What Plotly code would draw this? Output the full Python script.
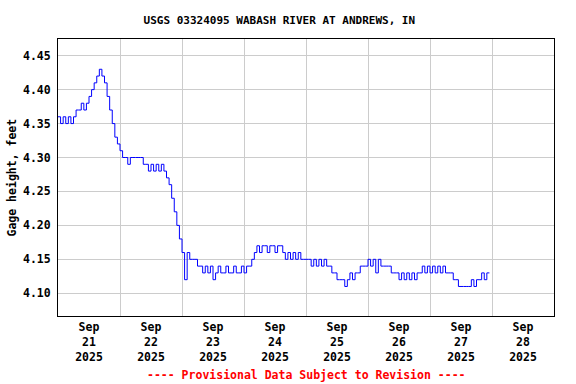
import pandas as pd
import plotly.graph_objects as go

# Hourly gage height readings (feet)
sep21 = [4.36, 4.35, 4.36, 4.35, 4.36, 4.35, 4.36, 4.37, 4.37, 4.38, 4.37, 4.38,
         4.39, 4.40, 4.41, 4.42, 4.43, 4.42, 4.41, 4.39, 4.37, 4.35, 4.33, 4.32]
sep22 = [4.31, 4.30, 4.30, 4.29, 4.30, 4.30, 4.30, 4.30, 4.30, 4.29, 4.29, 4.28,
         4.29, 4.28, 4.29, 4.28, 4.29, 4.28, 4.27, 4.26, 4.24, 4.22, 4.20, 4.18]
sep23 = [4.16, 4.12, 4.16, 4.15, 4.15, 4.15, 4.14, 4.14, 4.13, 4.14, 4.13, 4.14,
         4.12, 4.13, 4.14, 4.13, 4.13, 4.14, 4.13, 4.13, 4.14, 4.13, 4.13, 4.14]
sep24 = [4.13, 4.14, 4.14, 4.15, 4.16, 4.17, 4.16, 4.17, 4.17, 4.16, 4.17, 4.17,
         4.16, 4.17, 4.17, 4.16, 4.15, 4.16, 4.15, 4.16, 4.15, 4.16, 4.15, 4.15]
sep25 = [4.15, 4.15, 4.14, 4.15, 4.14, 4.15, 4.14, 4.15, 4.14, 4.14, 4.13, 4.13,
         4.12, 4.12, 4.12, 4.11, 4.12, 4.13, 4.12, 4.13, 4.13, 4.14, 4.14, 4.14]
sep26 = [4.15, 4.14, 4.15, 4.13, 4.15, 4.14, 4.14, 4.14, 4.14, 4.13, 4.13, 4.13,
         4.12, 4.13, 4.12, 4.13, 4.12, 4.13, 4.12, 4.13, 4.13, 4.14, 4.13, 4.14]
sep27 = [4.13, 4.14, 4.13, 4.14, 4.13, 4.14, 4.13, 4.13, 4.13, 4.12, 4.12, 4.11,
         4.11, 4.11, 4.11, 4.11, 4.12, 4.11, 4.12, 4.12, 4.13, 4.12, 4.13, 4.13]

heights = sep21 + sep22 + sep23 + sep24 + sep25 + sep26 + sep27
times = pd.date_range("2025-09-21 00:00", periods=len(heights), freq="h")

title_text = "USGS 03324095 WABASH RIVER AT ANDREWS, IN"
y_label = "Gage height, feet"
footer = "---- Provisional Data Subject to Revision ----"

FONT = "DejaVu Sans Mono"

fig = go.Figure()
fig.add_trace(go.Scatter(
    x=times, y=heights, mode="lines",
    line=dict(color="#0000ff", width=1, shape="hv"),
    hoverinfo="skip", showlegend=False,
))

fig.update_layout(
    width=576, height=384,
    margin=dict(l=58, r=22, t=39, b=68),
    paper_bgcolor="white", plot_bgcolor="white",
    font=dict(family=FONT, size=11.5, color="black"),
    title=dict(text="<b>" + title_text + "</b>", x=0.485, xref="container",
               xanchor="center", y=1 - 20 / 384, yanchor="middle",
               font=dict(family=FONT, size=11, color="black")),
)

fig.update_xaxes(
    type="date",
    range=["2025-09-21 00:00", "2025-09-29 00:00"],
    dtick=86400000, tick0="2025-09-21 00:00",
    ticklabelmode="period",
    tickformat="<b>%b</b><br><b>%d</b><br><b>%Y</b>",
    ticks="", showgrid=True, gridcolor="#cccccc", gridwidth=1,
    showline=True, linecolor="black", linewidth=1, mirror=True,
    zeroline=False,
    tickfont=dict(family=FONT, size=11.5, color="black"),
)
fig.update_yaxes(
    range=[4.0665, 4.4746],
    tick0=4.10, dtick=0.05, tickformat=".2f",
    ticks="", showgrid=True, gridcolor="#cccccc", gridwidth=1,
    showline=True, linecolor="black", linewidth=1, mirror=True,
    zeroline=False, ticklabelstandoff=4,
    tickfont=dict(family=FONT, size=11.5, color="black"),
    tickprefix="<b>", ticksuffix="</b>",
)

fig.add_annotation(
    text="<b>" + y_label + "</b>", textangle=-90,
    xref="paper", yref="paper", x=(11 - 58) / 496, y=0.5,
    xanchor="center", yanchor="middle", showarrow=False,
    font=dict(family=FONT, size=11.5, color="black"),
)
fig.add_annotation(
    text="<b>" + footer + "</b>",
    xref="paper", yref="paper", x=0.5, y=(316 - 375) / 276.7,
    xanchor="center", yanchor="middle", showarrow=False,
    font=dict(family=FONT, size=11.5, color="#ff0000"),
)

fig.write_html("out.html")
